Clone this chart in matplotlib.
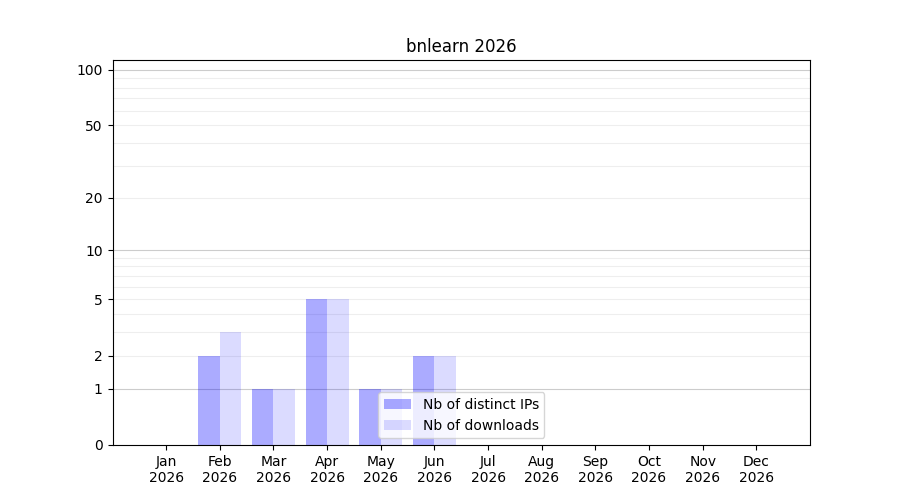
import numpy as np
import matplotlib
matplotlib.use('Agg')
import matplotlib.pyplot as plt

months = ['Jan', 'Feb', 'Mar', 'Apr', 'May', 'Jun',
          'Jul', 'Aug', 'Sep', 'Oct', 'Nov', 'Dec']
year = 2026
distinct_ips = [0, 2, 1, 5, 1, 2, 0, 0, 0, 0, 0, 0]
downloads = [0, 3, 1, 5, 1, 2, 0, 0, 0, 0, 0, 0]
major_ticks = [0, 1, 2, 5, 10, 20, 50, 100]


def forward(y):
    return np.log10(1 + np.clip(y, 0, None))


def inverse(y):
    return 10 ** np.asarray(y) - 1


fig, ax = plt.subplots(figsize=(9, 5), dpi=100)
x = np.arange(len(months))
ax.bar(x - 0.2, distinct_ips, width=0.4, color='blue', alpha=0.33,
       label='Nb of distinct IPs')
ax.bar(x + 0.2, downloads, width=0.4, color='blue', alpha=0.14,
       label='Nb of downloads')

ax.set_yscale('function', functions=(forward, inverse))
ax.set_ylim(0, 113)
ax.set_xlim(-1, 12)
ax.set_yticks(major_ticks)
ax.set_yticklabels([str(t) for t in major_ticks])

minor = [v for v in list(range(2, 10)) + list(range(20, 100, 10))]
ax.set_yticks(minor, minor=True)
ax.tick_params(axis='y', which='minor', length=0)
ax.grid(False)
for v in minor:
    ax.axhline(v, color='#eeeeee', linewidth=0.8, zorder=0)
for v in [1, 10, 100]:
    ax.axhline(v, color='#cccccc', linewidth=0.8, zorder=0)

ax.set_xticks(x)
ax.set_xticklabels([m + '\n' + str(year) for m in months])
ax.set_title('bnlearn ' + str(year))
ax.legend(loc='lower center')

fig.savefig('out.png')
